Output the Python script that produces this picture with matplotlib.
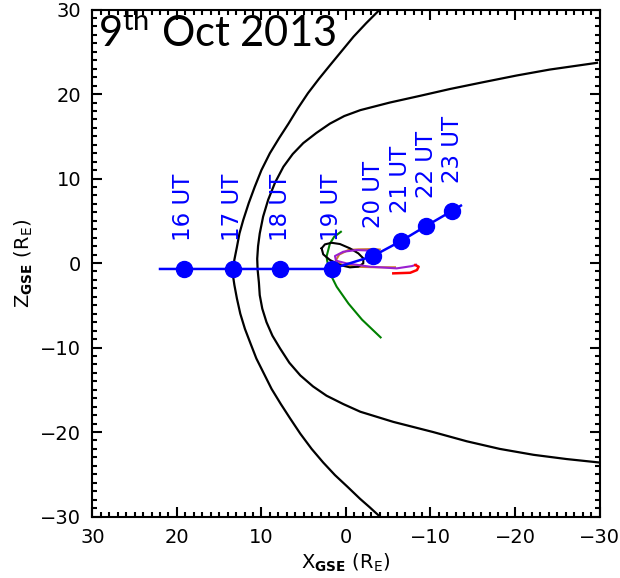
import matplotlib
matplotlib.use("Agg")
import matplotlib.pyplot as plt
from matplotlib.ticker import MultipleLocator

plt.rcParams["mathtext.fontset"] = "custom"
plt.rcParams["mathtext.rm"] = "Lato"

# bow shock, x and z in R_E
bs_x = [-4.0, -2.4, -0.9, 0.5, 1.9, 3.2, 4.5, 5.7, 6.8, 7.9, 9.0, 10.0, 10.8, 11.5, 12.15, 12.6,
        12.9, 13.2, 13.35, 13.35, 13.2, 12.9, 12.5, 11.95, 11.3, 10.6, 9.7, 8.8, 7.7, 6.6,
        5.4, 4.06, 2.7, 1.3, -0.2, -1.66, -2.8, -4.0]
bs_z = [30.0, 28.4, 26.8, 25.1, 23.4, 21.8, 20.1, 18.3, 16.5, 14.8, 13.0, 11.0, 9.0, 7.1, 5.1, 3.5,
        1.9, 0.4, -0.6, -1.6, -2.6, -4.2, -6.0, -7.8, -9.5, -11.3, -13.1, -14.9, -16.7, -18.4,
        -20.2, -22.0, -23.6, -25.1, -26.5, -27.9, -28.9, -30.0]

# magnetopause
mp_x = [-29.7, -24.1, -20.2, -16.2, -12.3, -8.8, -5.2, -1.7, 0.2, 1.9, 3.5, 5.05, 6.3, 7.4, 8.4,
        9.2, 9.8, 10.2, 10.4, 10.5, 10.45, 10.3, 10.2, 9.9, 9.4, 8.7, 7.8, 6.7, 5.4, 3.9, 2.3,
        0.3, -1.7, -5.6, -10.3, -14.3, -18.2, -22.2, -26.1, -29.9]
mp_z = [23.7, 22.9, 22.2, 21.4, 20.6, 19.8, 19.0, 18.1, 17.4, 16.5, 15.4, 14.2, 12.9, 11.4, 9.5,
        7.5, 5.5, 3.5, 2.0, 0.5, -0.8, -2.3, -3.8, -5.4, -7.0, -8.6, -10.1, -11.8, -13.3, -14.6, -15.7,
        -16.7, -17.6, -18.8, -20.0, -21.1, -22.0, -22.7, -23.2, -23.6]

# spacecraft trajectory
traj_x = [22.0, 19.2, 13.4, 7.8, 1.7, -3.2, -6.5, -9.5, -12.6, -13.6]
traj_z = [-0.7, -0.7, -0.7, -0.7, -0.7, 0.83, 2.6, 4.4, 6.2, 6.8]

hour_x = [19.2, 13.4, 7.8, 1.7, -3.2, -6.5, -9.5, -12.6]
hour_z = [-0.7, -0.7, -0.7, -0.7, 0.83, 2.6, 4.4, 6.2]
hour_lbl = ["16 UT", "17 UT", "18 UT", "19 UT", "20 UT", "21 UT", "22 UT", "23 UT"]

# small orbits near the nose
green_x = [0.6, 1.4, 1.9, 2.3, 2.0, 1.1, -0.3, -1.9, -4.1]
green_z = [3.7, 3.1, 2.3, 0.75, -1.0, -2.8, -4.8, -6.7, -8.8]

black_x = [2.88, 2.49, 1.70, 0.71, -0.47, -1.46, -2.05, -2.05, -1.46, -0.47, 0.71, 1.89, 2.69, 2.88]
black_z = [1.74, 2.21, 2.40, 2.25, 1.74, 1.15, 0.56, -0.04, -0.43, -0.51, -0.24, 0.36, 1.03, 1.74]

orange_x = [-4.0, -3.0, -1.5, -0.3, 0.8, 1.2, 0.5, -1.5, -3.5, -5.8]
orange_z = [1.6, 1.65, 1.62, 1.55, 1.0, 0.3, -0.2, -0.45, -0.5, -0.5]

purple_x = [-3.2, -1.27, 0.32, 1.3, 1.18, -0.08, -2.84, -6.0, -7.8, -8.3]
purple_z = [1.46, 1.54, 1.34, 0.83, 0.28, -0.04, -0.43, -0.63, -0.36, -0.2]

red_x = [-5.6, -7.6, -8.4, -8.6, -8.2]
red_z = [-1.22, -1.15, -0.83, -0.43, -0.24]

fig = plt.figure(figsize=(6.2, 5.78), dpi=100)
ax = fig.add_axes([0.149, 0.1064, 0.818, 0.877])

ax.plot(bs_x, bs_z, color="black", lw=1.6)
ax.plot(mp_x, mp_z, color="black", lw=1.6)

ax.plot(green_x, green_z, color="green", lw=1.5)
ax.plot(orange_x, orange_z, color="#cc7a30", lw=1.5)
ax.plot(black_x, black_z, color="black", lw=1.5)
ax.plot(purple_x, purple_z, color="#9a1fd0", lw=1.5)
ax.plot(red_x, red_z, color="red", lw=1.8)

ax.plot(traj_x, traj_z, color="blue", lw=1.8)
ax.plot(hour_x, hour_z, "o", color="blue", ms=11.5)

for hx, hz, lbl in zip(hour_x, hour_z, hour_lbl):
    ax.annotate(lbl, (hx, hz), xytext=(0, 20), textcoords="offset points",
                rotation=90, ha="center", va="bottom", color="blue", fontsize=16.5)

ax.text(0.011, 0.926, "9$^{\\mathrm{th}}$ Oct 2013", transform=ax.transAxes,
        fontsize=30, family="Lato", math_fontfamily="custom", va="baseline", ha="left")

ax.set_xlim(30, -30)
ax.set_ylim(-30, 30)
ax.xaxis.set_major_locator(MultipleLocator(10))
ax.yaxis.set_major_locator(MultipleLocator(10))
ax.xaxis.set_minor_locator(MultipleLocator(1))
ax.yaxis.set_minor_locator(MultipleLocator(1))
ax.tick_params(which="both", direction="in", top=True, right=True, width=1.5)
ax.tick_params(which="major", length=7, labelsize=14, pad=8)
ax.tick_params(which="minor", length=3.5)
for s in ax.spines.values():
    s.set_linewidth(1.5)

ax.set_xlabel("X$_{\\mathbf{GSE}}$ (R$_{\\mathrm{E}}$)", fontsize=14, math_fontfamily="dejavusans")
ax.set_ylabel("Z$_{\\mathbf{GSE}}$ (R$_{\\mathrm{E}}$)", fontsize=14, math_fontfamily="dejavusans")

fig.savefig("out.png", dpi=100)
